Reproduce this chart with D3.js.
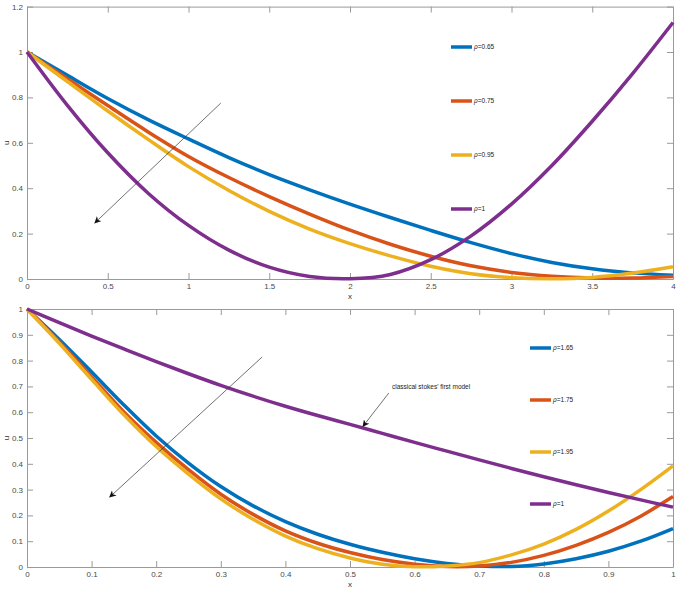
<!DOCTYPE html>
<html>
<head>
<meta charset="utf-8">
<script src="https://cdn.jsdelivr.net/npm/d3@7"></script>
<style>
  body { margin: 0; background: #fff; }
  svg { display: block; font-family: "Liberation Sans", Arial, sans-serif; }
</style>
</head>
<body>
<svg id="chart" width="680" height="596"></svg>
<script>
// top panel data (rho < 1)
var xTop = [0, 0.25, 0.5, 0.75, 1, 1.25, 1.5, 1.75, 2, 2.25, 2.5, 2.75, 3, 3.25, 3.5, 3.75, 4];
var top065 = [1, 0.897, 0.795, 0.702, 0.617, 0.535, 0.46, 0.393, 0.33, 0.271, 0.214, 0.16, 0.112, 0.073, 0.045, 0.027, 0.017];
var top075 = [1, 0.882, 0.764, 0.648, 0.54, 0.447, 0.363, 0.286, 0.215, 0.153, 0.1, 0.058, 0.029, 0.012, 0.004, 0.004, 0.011];
var top095 = [1, 0.87, 0.74, 0.615, 0.495, 0.39, 0.298, 0.22, 0.156, 0.102, 0.056, 0.023, 0.006, 0.001, 0.007, 0.026, 0.054];
var top100 = [1, 0.765, 0.556, 0.378, 0.236, 0.127, 0.052, 0.011, 0.001, 0.02, 0.085, 0.19, 0.33, 0.5, 0.695, 0.905, 1.13];
var topLabels = ["\u03c1=0.65", "\u03c1=0.75", "\u03c1=0.95", "\u03c1=1"];
var topXTicks = [0, 0.5, 1, 1.5, 2, 2.5, 3, 3.5, 4];
var topYTicks = [0, 0.2, 0.4, 0.6, 0.8, 1, 1.2];

// bottom panel data (rho > 1)
var xBot = [0, 0.05, 0.1, 0.15, 0.2, 0.25, 0.3, 0.35, 0.4, 0.45, 0.5, 0.55, 0.6, 0.65, 0.7, 0.75, 0.8, 0.85, 0.9, 0.95, 1];
var bot165 = [1, 0.882, 0.756, 0.628, 0.508, 0.403, 0.312, 0.237, 0.176, 0.127, 0.088, 0.057, 0.032, 0.014, 0.004, 0.002, 0.012, 0.032, 0.061, 0.1, 0.149];
var bot175 = [1, 0.872, 0.737, 0.601, 0.483, 0.377, 0.282, 0.204, 0.14, 0.092, 0.056, 0.029, 0.011, 0.002, 0.004, 0.018, 0.045, 0.084, 0.134, 0.197, 0.273];
var bot195 = [1, 0.867, 0.727, 0.59, 0.467, 0.36, 0.264, 0.185, 0.12, 0.071, 0.035, 0.011, 0.001, 0.004, 0.017, 0.047, 0.089, 0.146, 0.217, 0.3, 0.392];
var bot100 = [1, 0.947, 0.895, 0.845, 0.796, 0.749, 0.704, 0.662, 0.623, 0.587, 0.553, 0.518, 0.483, 0.449, 0.415, 0.382, 0.35, 0.319, 0.289, 0.26, 0.232];
var botLabels = ["\u03c1=1.65", "\u03c1=1.75", "\u03c1=1.95", "\u03c1=1"];
var botXTicks = [0, 0.1, 0.2, 0.3, 0.4, 0.5, 0.6, 0.7, 0.8, 0.9, 1];
var botYTicks = [0, 0.1, 0.2, 0.3, 0.4, 0.5, 0.6, 0.7, 0.8, 0.9, 1];

var colors = ["#0072BD", "#D95319", "#EDB120", "#7E2F8E"];

var svg = d3.select("#chart");
svg.append("rect").attr("width", 680).attr("height", 596).attr("fill", "#fff");

var defs = svg.append("defs");
defs.append("marker")
    .attr("id", "head")
    .attr("viewBox", "0 0 10 10")
    .attr("refX", 9).attr("refY", 5)
    .attr("markerWidth", 7).attr("markerHeight", 7)
    .attr("markerUnits", "userSpaceOnUse")
    .attr("orient", "auto")
    .append("path")
    .attr("d", "M0,0 L10,5 L0,10 L3,5 Z")
    .attr("fill", "#111");

function fmt(d) { return String(+d.toFixed(2)); }

function drawPanel(p) {
    var x = d3.scaleLinear().domain(p.xDomain).range([p.left, p.right]);
    var y = d3.scaleLinear().domain(p.yDomain).range([p.bottom, p.top]);
    var g = svg.append("g");

    // axes (ticks pointing inward, box on)
    var axes = [
        { a: d3.axisBottom(x).tickValues(p.xTicks).tickFormat(fmt), t: "translate(0," + p.bottom + ")" },
        { a: d3.axisTop(x).tickValues(p.xTicks).tickFormat(""), t: "translate(0," + p.top + ")" },
        { a: d3.axisLeft(y).tickValues(p.yTicks).tickFormat(fmt), t: "translate(" + p.left + ",0)" },
        { a: d3.axisRight(y).tickValues(p.yTicks).tickFormat(""), t: "translate(" + p.right + ",0)" }
    ];
    axes.forEach(function(o) {
        var ag = g.append("g").attr("transform", o.t)
            .call(o.a.tickSizeInner(-6).tickSizeOuter(0).tickPadding(4));
        ag.select(".domain").attr("stroke", "#9a9a9a");
        ag.selectAll(".tick line").attr("stroke", "#9a9a9a");
        ag.selectAll(".tick text").attr("fill", "#4a4a4a").style("font-size", "8px");
    });

    var line = d3.line()
        .x(function(d) { return x(d[0]); })
        .y(function(d) { return y(d[1]); })
        .curve(d3.curveCatmullRom.alpha(0.5));

    p.series.forEach(function(s, i) {
        g.append("path")
            .datum(p.xs.map(function(v, k) { return [v, s[k]]; }))
            .attr("fill", "none")
            .attr("stroke", colors[i])
            .attr("stroke-width", 3.5)
            .attr("d", line);
    });

    // legend
    p.labels.forEach(function(lab, i) {
        var ly = p.legY[i];
        g.append("line")
            .attr("x1", p.legX).attr("x2", p.legX + 21)
            .attr("y1", ly).attr("y2", ly)
            .attr("stroke", colors[i]).attr("stroke-width", 3.5);
        var t = g.append("text")
            .attr("x", p.legX + 23).attr("y", ly + 2)
            .attr("fill", "#222").style("font-size", "6.5px");
        t.append("tspan").style("font-style", "italic").text(lab.charAt(0));
        t.append("tspan").text(lab.slice(1));
    });

    // arrow showing increasing rho
    g.append("line")
        .attr("x1", x(p.arrow[0])).attr("y1", y(p.arrow[1]))
        .attr("x2", x(p.arrow[2])).attr("y2", y(p.arrow[3]))
        .attr("stroke", "#333").attr("stroke-width", 0.7)
        .attr("marker-end", "url(#head)");

    g.append("text")
        .attr("x", (p.left + p.right) / 2).attr("y", p.bottom + 20)
        .attr("text-anchor", "middle").attr("fill", "#333")
        .style("font-size", "8px").text("x");
    g.append("text")
        .attr("transform", "translate(9," + (p.top + p.bottom) / 2 + ") rotate(-90)")
        .attr("text-anchor", "middle").attr("fill", "#333")
        .style("font-size", "8px").text("u");

    return { x: x, y: y, g: g };
}

drawPanel({
    left: 27, right: 673, top: 6.6, bottom: 279,
    xDomain: [0, 4], yDomain: [0, 1.2],
    xTicks: topXTicks, yTicks: topYTicks,
    xs: xTop, series: [top065, top075, top095, top100],
    labels: topLabels, legX: 451, legY: [47, 101, 155, 209],
    arrow: [1.2, 0.775, 0.42, 0.247]
});

var bp = drawPanel({
    left: 27, right: 673, top: 309, bottom: 567,
    xDomain: [0, 1], yDomain: [0, 1],
    xTicks: botXTicks, yTicks: botYTicks,
    xs: xBot, series: [bot165, bot175, bot195, bot100],
    labels: botLabels, legX: 530, legY: [348, 400, 452, 504],
    arrow: [0.364, 0.814, 0.128, 0.271]
});

// annotation for the rho = 1 curve
bp.g.append("line")
    .attr("x1", bp.x(0.56)).attr("y1", bp.y(0.674))
    .attr("x2", bp.x(0.52)).attr("y2", bp.y(0.545))
    .attr("stroke", "#333").attr("stroke-width", 0.7)
    .attr("marker-end", "url(#head)");
bp.g.append("text")
    .attr("x", bp.x(0.565)).attr("y", bp.y(0.69))
    .attr("fill", "#222").style("font-size", "6.5px")
    .text("classical stokes' first model");
</script>
</body>
</html>
